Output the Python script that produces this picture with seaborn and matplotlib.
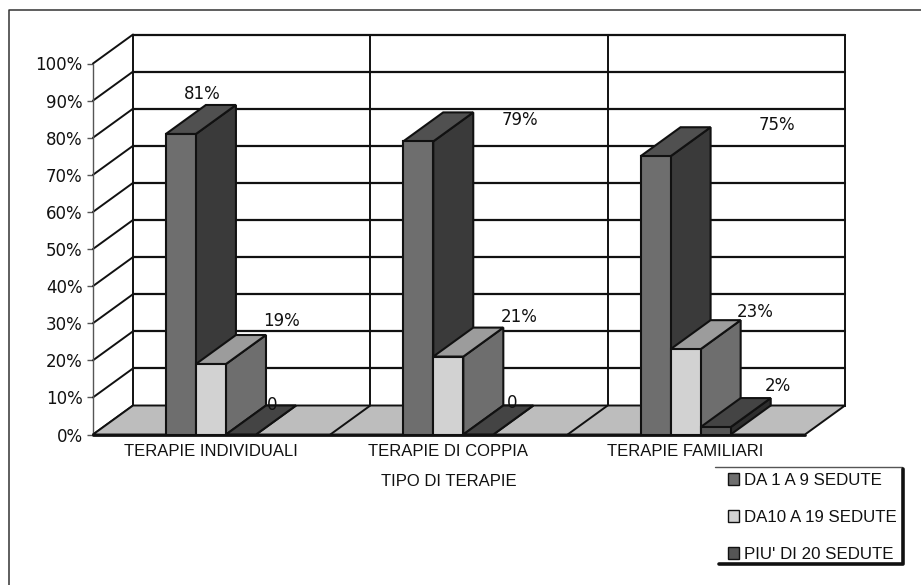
import matplotlib
matplotlib.use("Agg")
import matplotlib.pyplot as plt
import pandas as pd
import seaborn as sns
from matplotlib.patches import Polygon, Rectangle, Patch

categories = ["TERAPIE INDIVIDUALI", "TERAPIE DI COPPIA", "TERAPIE FAMILIARI"]
series_names = ["DA 1 A 9 SEDUTE", "DA10 A 19 SEDUTE", "PIU' DI 20 SEDUTE"]
short_sessions = [81, 79, 75]
medium_sessions = [19, 21, 23]
long_sessions = [0, 0, 2]
value_labels = [["81%", "79%", "75%"], ["19%", "21%", "23%"], ["0", "0", "2%"]]
y_ticks = list(range(0, 101, 10))
x_title = "TIPO DI TERAPIE"

front_colors = ["#6e6e6e", "#d2d2d2", "#555555"]
side_colors = ["#3a3a3a", "#6e6e6e", "#2e2e2e"]
top_colors = ["#505050", "#9c9c9c", "#444444"]
floor_color = "#bdbdbd"
ink = "#111111"
W, H = 921, 585

sns.set_theme(style="white")
plt.rcParams["font.family"] = ["Liberation Sans", "DejaVu Sans"]

df = pd.DataFrame({
    "cat": categories * 3,
    "serie": [s for s in series_names for _ in categories],
    "val": short_sessions + medium_sessions + long_sessions,
})

fig = plt.figure(figsize=(W / 100, H / 100), dpi=100, facecolor="white")
X0, X1, Y0, Y100 = 93, 805, 434.5, 63.5
ax = fig.add_axes([X0 / W, 1 - Y0 / H, (X1 - X0) / W, (Y0 - Y100) / H])
ax.patch.set_visible(False)

sns.barplot(data=df, x="cat", y="val", hue="serie", order=categories,
            hue_order=series_names, palette=front_colors, width=0.38, gap=0,
            dodge=True, saturation=1, legend=False, ax=ax, zorder=5,
            edgecolor=ink, linewidth=1.5, err_kws={"linewidth": 0})
ax.set_xlim(-0.497, 2.503)
ax.set_ylim(0, 100)

# depth of the pseudo 3D box in data units
cat_px = (X1 - X0) / 3
DX = 40 / cat_px
DY = 29 / ((Y0 - Y100) / 100)
xl, xr = ax.get_xlim()

# back wall
ax.add_patch(Polygon([(xl + DX, DY), (xr + DX, DY), (xr + DX, 100 + DY), (xl + DX, 100 + DY)],
                     closed=True, fc="white", ec=ink, lw=1.4, clip_on=False, zorder=1))
# floor
ax.add_patch(Polygon([(xl, 0), (xr, 0), (xr + DX, DY), (xl + DX, DY)],
                     closed=True, fc=floor_color, ec=ink, lw=1.4, clip_on=False, zorder=2))
# horizontal grid on back wall + wall diagonals
for t in y_ticks:
    if t > 0:
        ax.plot([xl + DX, xr + DX], [t + DY, t + DY], color=ink, lw=1.6, clip_on=False, zorder=1.5)
    ax.plot([xl, xl + DX], [t, t + DY], color=ink, lw=1.4, clip_on=False, zorder=1.5)
ax.plot([xl, xl], [0, 100], color="#555555", lw=1.0, clip_on=False, zorder=1.5)
# category dividers
for i in range(1, 3):
    x = xl + i
    ax.plot([x + DX, x + DX], [DY, 100 + DY], color=ink, lw=1.4, clip_on=False, zorder=1.5)
    ax.plot([x, x + DX], [0, DY], color=ink, lw=1.4, clip_on=False, zorder=2.5)
ax.plot([xl, xr], [0, 0], color=ink, lw=2.0, clip_on=False, zorder=2.6)

# 3D faces of bars, from the bars' own geometry
by_series = [list(c) for c in ax.containers]
label_offsets = {(0, 0): (21, 2), (0, 1): (102, -17), (0, 2): (121, -7),
                 (1, 0): (71, 5), (1, 1): (71, 2), (1, 2): (70, -1),
                 (2, 0): (31, -9), (2, 1): (34, -7), (2, 2): (62, 3)}
for s in [0, 1, 2]:
    for c, bar in enumerate(by_series[s]):
        x = bar.get_x(); w = bar.get_width(); h = bar.get_height()
        ax.add_patch(Polygon([(x + w, 0), (x + w + DX, DY), (x + w + DX, h + DY), (x + w, h)],
                             closed=True, fc=side_colors[s], ec=ink, lw=1.5, clip_on=False, zorder=3 + s * 0.2))
        ax.add_patch(Polygon([(x, h), (x + DX, h + DY), (x + w + DX, h + DY), (x + w, h)],
                             closed=True, fc=top_colors[s], ec=ink, lw=1.5, clip_on=False, zorder=3.1 + s * 0.2))
        bar.set_clip_on(False)
        off = label_offsets[(s, c)]
        ax.annotate(value_labels[s][c], xy=(x + w / 2, h + DY), xytext=off, textcoords="offset pixels",
                    ha="center", va="bottom", fontsize=12, color=ink, zorder=8, annotation_clip=False,
                    family="DejaVu Sans")

# axes furniture
sns.despine(ax=ax, left=True, bottom=True, top=True, right=True)
ax.set_yticks(y_ticks)
ax.set_yticklabels([f"{t}%" for t in y_ticks], fontsize=12, color=ink, family="DejaVu Sans")
ax.tick_params(axis="y", length=4.5, width=1, color="#555555", pad=3, left=True)
ax.tick_params(axis="x", length=0, pad=6.5)
ax.set_xticks(range(3))
ax.set_xticklabels(categories, fontsize=12, color=ink)
ax.set_xlabel(x_title, fontsize=12, color=ink, labelpad=11)
ax.set_ylabel("")

# outer frame: only left and top edges are visible in the scan
fig.add_artist(plt.Line2D([8.5 / W, 8.5 / W, 1], [0, 1 - 9.5 / H, 1 - 9.5 / H], color="#333333", lw=1.1))

# legend box
handles = [Patch(fc=front_colors[i], ec=ink, lw=1, label=series_names[i]) for i in range(3)]
fig.add_artist(Rectangle((718 / W, 1 - 564 / H), (903 - 718) / W, (564 - 468) / H, transform=fig.transFigure,
                         fc="white", ec="none", zorder=3))
fig.add_artist(plt.Line2D([715 / W, 902 / W], [1 - 467 / H, 1 - 467 / H], color="#555555", lw=1, zorder=4))
fig.add_artist(plt.Line2D([903 / W, 903 / W, 719 / W], [1 - 469 / H, 1 - 564 / H, 1 - 564 / H], color=ink, lw=2.6, zorder=4))
leg = fig.legend(handles=handles, loc="upper left", bbox_to_anchor=(719 / W, 1 - 464 / H),
                 bbox_transform=fig.transFigure, frameon=False, fontsize=12.2, handlelength=0.65,
                 handleheight=0.7, handletextpad=0.3, labelspacing=1.29, borderpad=0.55, borderaxespad=0)
leg.set_zorder(5)
for t in leg.get_texts():
    t.set_color(ink)

fig.savefig("out.png", dpi=100)
